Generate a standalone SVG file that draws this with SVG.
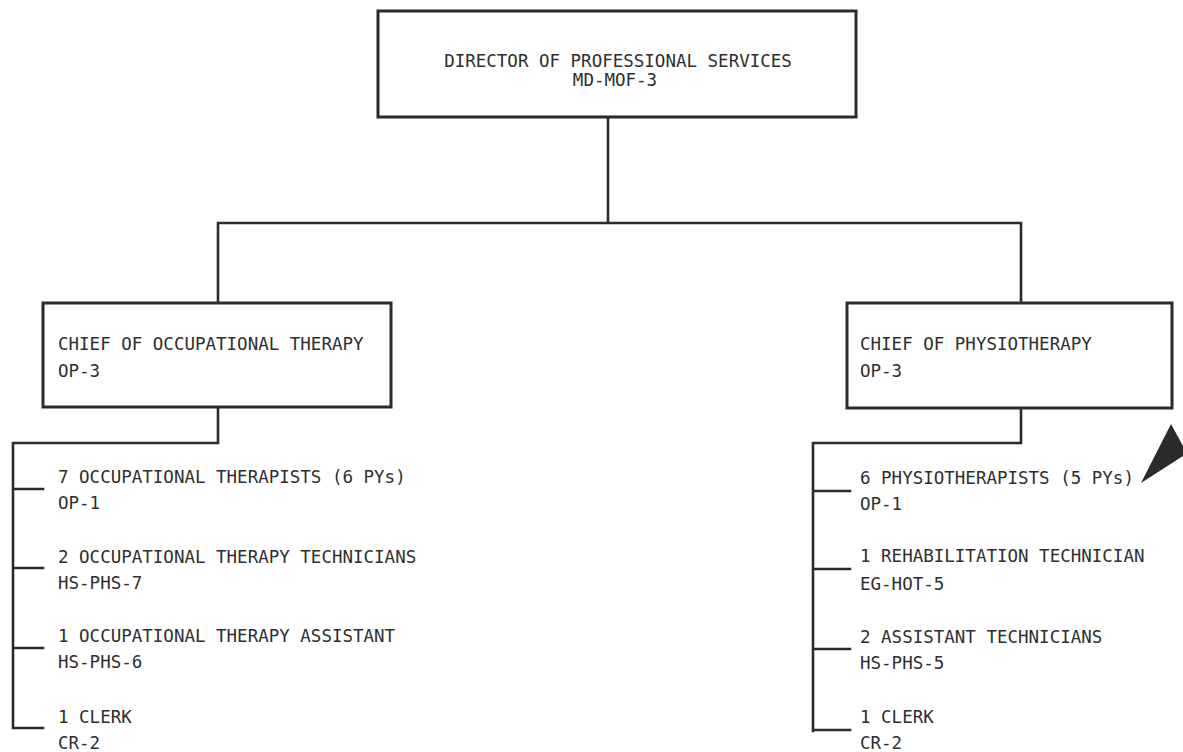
<svg xmlns="http://www.w3.org/2000/svg" width="1183" height="752" viewBox="0 0 1183 752">
<style>
.box{fill:#fff;stroke:#2b2b2b;stroke-width:3}
.ln{fill:none;stroke:#2b2b2b;stroke-width:2.6;stroke-linecap:square;stroke-linejoin:miter}
text{font-family:"DejaVu Sans Mono","Liberation Mono",monospace;font-size:17.5px;fill:#2e2e2e}
.c{text-anchor:middle}
</style>
<rect width="1183" height="752" fill="#fff"/>
<g id="connectors">
<path class="ln" d="M608 117 V223 M218 223 H1021 M218 223 V303 M1021 223 V303"/>
<path class="ln" d="M218 407 V443 H13 V728 M13 489 H43 M13 568 H43 M13 648 H43 M13 728 H43"/>
<path class="ln" d="M1021 408 V443 H813 V731 M813 491 H850 M813 569 H850 M813 649 H850 M813 730 H850"/>
<polygon points="1141,483 1171,424 1183,446 1183,456" fill="#2b2b2b"/>
</g>
<g id="director">
<rect class="box" x="378" y="11" width="478" height="106"/>
<text class="c" x="618" y="67">DIRECTOR OF PROFESSIONAL SERVICES</text>
<text class="c" x="615" y="86">MD-MOF-3</text>
</g>
<g id="chief-ot">
<rect class="box" x="43" y="303" width="348" height="104"/>
<text x="58" y="350">CHIEF OF OCCUPATIONAL THERAPY</text>
<text x="58" y="377">OP-3</text>
</g>
<g id="chief-pt">
<rect class="box" x="847" y="303" width="325" height="105"/>
<text x="860" y="350">CHIEF OF PHYSIOTHERAPY</text>
<text x="860" y="377">OP-3</text>
</g>
<g id="ot-staff-1">
<text x="58" y="483">7 OCCUPATIONAL THERAPISTS (6 PYs)</text>
<text x="58" y="509">OP-1</text>
</g>
<g id="ot-staff-2">
<text x="58" y="563">2 OCCUPATIONAL THERAPY TECHNICIANS</text>
<text x="58" y="589">HS-PHS-7</text>
</g>
<g id="ot-staff-3">
<text x="58" y="642">1 OCCUPATIONAL THERAPY ASSISTANT</text>
<text x="58" y="668">HS-PHS-6</text>
</g>
<g id="ot-staff-4">
<text x="58" y="723">1 CLERK</text>
<text x="58" y="749">CR-2</text>
</g>
<g id="pt-staff-1">
<text x="860" y="484">6 PHYSIOTHERAPISTS (5 PYs)</text>
<text x="860" y="510">OP-1</text>
</g>
<g id="pt-staff-2">
<text x="860" y="562">1 REHABILITATION TECHNICIAN</text>
<text x="860" y="590">EG-HOT-5</text>
</g>
<g id="pt-staff-3">
<text x="860" y="643">2 ASSISTANT TECHNICIANS</text>
<text x="860" y="669">HS-PHS-5</text>
</g>
<g id="pt-staff-4">
<text x="860" y="723">1 CLERK</text>
<text x="860" y="749">CR-2</text>
</g>
</svg>
